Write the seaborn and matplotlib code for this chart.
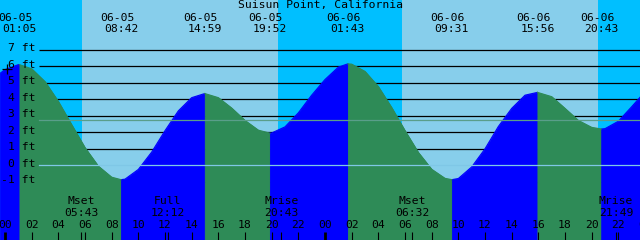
import matplotlib
matplotlib.use("Agg")
import matplotlib.pyplot as plt
import matplotlib.transforms as mtransforms
import numpy as np
import pandas as pd
import seaborn as sns

# ---------------- data ----------------
title = "Suisun Point, California"

# tide readings: hours since 06-05 00:00, height in ft
tide_hours = [-0.375, 0, 1, 1.083, 2, 3, 4, 5, 6, 7, 8, 8.7, 9, 10, 11, 12, 13, 14,
              14.983, 16, 17, 18, 19, 19.867, 20, 21, 22, 23, 24, 25, 25.717, 26,
              27, 28, 29, 30, 31, 32, 33, 33.517, 34, 35, 36, 37, 38, 39, 39.933,
              41, 42, 43, 44, 44.717, 45, 46, 47, 47.625]
tide_feet = [5.57, 5.8, 6.1, 6.1, 5.85, 5.07, 3.87, 2.46, 1.07, -0.05, -0.72, -0.87,
             -0.84, -0.25, 0.8, 2.1, 3.3, 4.1, 4.35, 4.1, 3.47, 2.72, 2.13, 1.95,
             1.96, 2.33, 3.18, 4.25, 5.2, 5.95, 6.15, 6.13, 5.69, 4.77, 3.5, 2.1,
             0.78, -0.24, -0.79, -0.87, -0.8, -0.1, 1.0, 2.35, 3.45, 4.25, 4.42,
             4.16, 3.45, 2.72, 2.3, 2.2, 2.22, 2.67, 3.55, 4.12]

# high / low tide events shown at the top
event_dates = ["06-05", "06-05", "06-05", "06-05", "06-06", "06-06", "06-06", "06-06"]
event_day = [0, 0, 0, 0, 1, 1, 1, 1]
event_times = ["01:05", "08:42", "14:59", "19:52", "01:43", "09:31", "15:56", "20:43"]

# moon events shown at the bottom
moon_names = ["Mset", "Full", "Mrise", "Mset", "Mrise"]
moon_day = [0, 0, 0, 1, 1]
moon_times = ["05:43", "12:12", "20:43", "06:32", "21:49"]

# daylight
sunrise_times = ["05:47", "05:47"]
sunset_times = ["20:28", "20:28"]
sun_day = [0, 1]

height_ticks = [-1, 0, 1, 2, 3, 4, 5, 6, 7]
mean_sea_level = 2.73
hour_ticks = list(range(0, 49, 2))
hour_labels = ["%02d" % (h % 24) for h in hour_ticks]

# ---------------- helpers ----------------
def to_hours(day, hhmm):
    hh, mm = hhmm.split(":")
    return day * 24 + int(hh) + int(mm) / 60.0

ev_h = [to_hours(d, t) for d, t in zip(event_day, event_times)]
moon_h = [to_hours(d, t) for d, t in zip(moon_day, moon_times)]

NIGHT = "#00BFFF"
DAY = "#87CEEB"
RISE = "#0000FF"
FALL = "#2E8B57"
DATUM = "#7FC7E6"
MSL = "#5A9E8A"

W, H = 640, 240
x_px0, px_per_h = 5.0, 13.3333
y_px0, px_per_ft = 165.3, 16.5
xlim = (-x_px0 / px_per_h, (W - x_px0) / px_per_h)
ylim = ((y_px0 - H) / px_per_ft, y_px0 / px_per_ft)

plt.rcParams["font.family"] = ["DejaVu Sans Mono"]
FS = 8.2

fig = plt.figure(figsize=(6.4, 2.4), dpi=100)
ax = fig.add_axes([0, 0, 1, 1])
ax.set_xlim(*xlim)
ax.set_ylim(*ylim)
ax.axis("off")
fig.patch.set_facecolor(NIGHT)
ax.add_patch(plt.Rectangle((0, 0), 1, 1, transform=ax.transAxes, color=NIGHT, zorder=0))

for d, sr, ss in zip(sun_day, sunrise_times, sunset_times):
    ax.axvspan(to_hours(d, sr), to_hours(d, ss), color=DAY, lw=0, zorder=0.5)

trans_xaxes = mtransforms.blended_transform_factory(ax.transAxes, ax.transData)
trans_yaxes = mtransforms.blended_transform_factory(ax.transData, ax.transAxes)

# black height lines (behind water)
x_line0 = 39.0 / W
for v in height_ticks:
    if v != 0:
        ax.plot([x_line0, 1], [v, v], color="black", lw=0.9, transform=trans_xaxes,
                zorder=1, solid_capstyle="butt")
    lab = "%d ft" % v
    ax.text(35.5 / W, v + 0.08, lab, transform=trans_xaxes, ha="right", va="center",
            fontsize=FS, color="black", zorder=5)

# ---------------- tide curve segments ----------------
df = pd.DataFrame({"hour": tide_hours, "ft": tide_feet})
hrs = df["hour"].to_numpy()
cut_idx = [0] + [int(np.argmin(np.abs(hrs - e))) for e in ev_h] + [len(df) - 1]
rows = []
for i in range(len(cut_idx) - 1):
    a, b = cut_idx[i], cut_idx[i + 1]
    if b <= a:
        continue
    sub = df.iloc[a:b + 1].copy()
    phase = "rising" if sub["ft"].iloc[-1] > sub["ft"].iloc[0] else "falling"
    sub["seg"] = i
    sub["phase"] = phase
    rows.append(sub)
segs = pd.concat(rows, ignore_index=True)

for s, sub in segs.groupby("seg"):
    col = RISE if sub["phase"].iloc[0] == "rising" else FALL
    ax.fill_between(sub["hour"], sub["ft"], ylim[0] - 1, color=col, lw=0.6,
                    edgecolor=col, zorder=2)

sns.lineplot(data=segs, x="hour", y="ft", hue="phase", units="seg", estimator=None,
             sort=False, palette={"rising": RISE, "falling": FALL}, legend=False,
             lw=0.8, ax=ax, zorder=2.5)
ax.set_xlim(*xlim)
ax.set_ylim(*ylim)
ax.axis("off")

# datum and mean sea level lines
ax.plot([x_line0, 1], [0, 0], color=DATUM, lw=0.9, transform=trans_xaxes, zorder=3)
ax.plot([x_line0, 1], [mean_sea_level, mean_sea_level], color=MSL, lw=0.9,
        transform=trans_xaxes, zorder=3)

# "+" mark
ax.plot([6.7 / W], [1 - 68.5 / H], marker="+", ms=7, mew=0.9, color="black",
        transform=ax.transAxes, zorder=5)

# ---------------- texts ----------------
ax.text(0.5, 1 - 5 / H, title, transform=ax.transAxes, ha="center", va="center",
        fontsize=FS, zorder=5)
for h, d, t in zip(ev_h, event_dates, event_times):
    ax.text(h - 4 / px_per_h, 1 - 18 / H, d, transform=trans_yaxes, ha="center",
            va="center", fontsize=FS, zorder=5)
    ax.text(h, 1 - 29.5 / H, t, transform=trans_yaxes, ha="center", va="center",
            fontsize=FS, zorder=5)

for h, n, t in zip(moon_h, moon_names, moon_times):
    ax.text(h, 1 - 201.5 / H, n, transform=trans_yaxes, ha="center", va="center",
            fontsize=FS, zorder=5)
    ax.text(h, 1 - 213 / H, t, transform=trans_yaxes, ha="center", va="center",
            fontsize=FS, zorder=5)
    ax.plot([h, h], [0, 8 / H], color="black", lw=0.8, transform=trans_yaxes, zorder=5,
            solid_capstyle="butt")

for h, lab in zip(hour_ticks, hour_labels):
    ax.text(h, 1 - 225.5 / H, lab, transform=trans_yaxes, ha="center", va="center",
            fontsize=FS, zorder=5)
    lw = 2.0 if h % 24 == 0 else 0.8
    ax.plot([h, h], [0, 8 / H], color="black", lw=lw, transform=trans_yaxes, zorder=5,
            solid_capstyle="butt")

fig.savefig("out.png", dpi=100, facecolor=NIGHT)
